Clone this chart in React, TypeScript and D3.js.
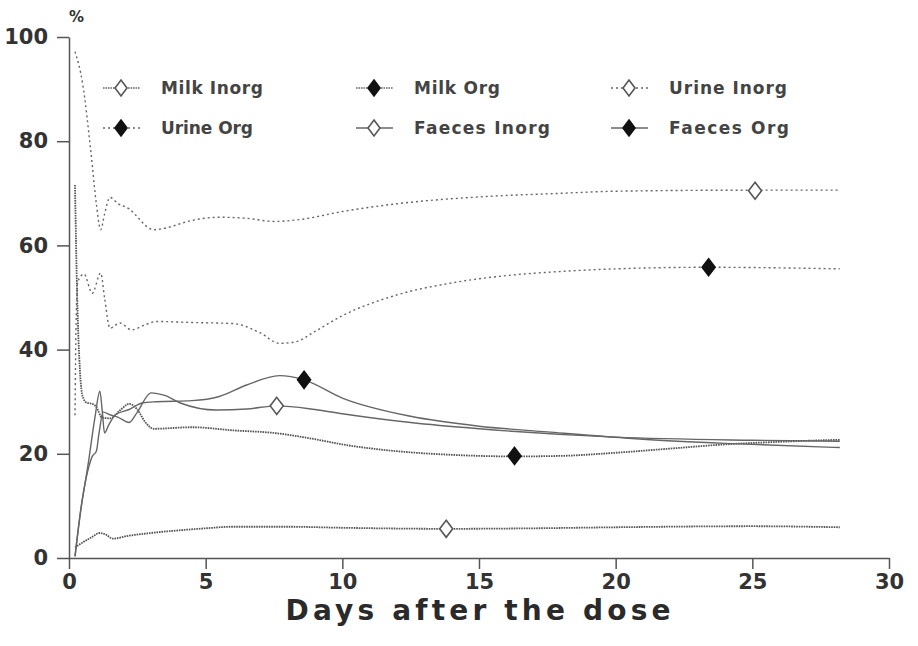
import React, { useEffect, useRef } from 'react';
import * as d3 from 'd3';

// days after the dose / percent
const milkInorgDays = [0.22, 0.5, 0.8, 1.13, 1.35, 1.6, 2.1, 3, 4, 5, 6, 8, 10, 13.8, 17, 20, 25, 28.2];
const milkInorgVals = [2.0, 3.0, 3.9, 4.8, 4.5, 3.7, 4.2, 4.8, 5.3, 5.7, 6.0, 6.0, 5.8, 5.6, 5.7, 5.9, 6.1, 5.9];

const milkOrgDays = [0.22, 0.3, 0.4, 0.5, 0.65, 0.85, 1.0, 1.2, 1.5, 1.9, 2.2, 2.5, 2.8, 3.1, 4.5, 6, 7.5, 9, 10, 12, 14, 16.3, 18, 20, 22, 24, 26, 28.2];
const milkOrgVals = [71.6, 50, 36, 31, 29.8, 29.6, 29, 27, 26.8, 28.5, 29.6, 28.5, 26, 24.8, 25.1, 24.5, 24, 22.8, 21.8, 20.5, 19.8, 19.5, 19.6, 20.2, 21, 21.8, 22.3, 22.7];

const urineInorgDays = [0.22, 0.5, 0.8, 1.0, 1.16, 1.3, 1.5, 1.8, 2.2, 2.5, 2.8, 3.1, 3.5, 4.5, 5.5, 6.5, 7.5, 8.5, 10, 12, 15, 18, 20, 25, 28.2];
const urineInorgVals = [97.2, 91, 78, 68, 63, 66, 69.2, 68, 67, 65.5, 63.8, 63, 63.3, 64.8, 65.4, 65.2, 64.6, 65, 66.5, 68, 69.3, 70, 70.4, 70.6, 70.6];

const urineOrgDays = [0.22, 0.26, 0.32, 0.55, 0.85, 1.16, 1.3, 1.5, 1.86, 2.29, 2.8, 3.2, 4.5, 6, 7, 7.7, 8.3, 9, 10, 12, 14, 16, 18, 20, 23.4, 28.2];
const urineOrgVals = [27.4, 45, 53, 54.5, 50.8, 54.7, 50, 44.1, 45.1, 43.8, 44.8, 45.4, 45.2, 45, 43.2, 41.2, 41.5, 43.5, 46.5, 50.5, 52.8, 54.2, 55, 55.5, 55.8, 55.5];

const faecesInorgDays = [0.22, 0.45, 0.7, 0.85, 1.0, 1.1, 1.25, 1.5, 1.8, 2.2, 2.5, 3.0, 3.5, 4.1, 5.4, 6.5, 7.6, 9, 10, 12.5, 15, 20, 25, 28.2];
const faecesInorgVals = [0.3, 10, 17, 19.5, 20.5, 24, 28, 27.5, 27, 26, 28, 31.7, 31.2, 29.7, 28.4, 28.6, 29.2, 28.5, 27.7, 26, 24.8, 23.2, 22.6, 22.4];

const faecesOrgDays = [0.22, 0.4, 0.7, 0.95, 1.13, 1.22, 1.3, 1.45, 1.7, 2.2, 2.7, 3.2, 4.5, 5.5, 6.5, 7.7, 8.6, 10, 12.5, 15, 17.5, 21, 24, 28.2];
const faecesOrgVals = [0.3, 8, 18, 27, 32, 28, 24, 25.5, 27.5, 28.5, 29.8, 30, 30.2, 31, 33.2, 35, 34.2, 30.7, 27.2, 25.3, 24.2, 22.8, 22, 21.2];

const seriesNames = ['Milk Inorg', 'Milk Org', 'Urine Inorg', 'Urine Org', 'Faeces Inorg', 'Faeces Org'];
const markerDays = [13.8, 16.3, 25.1, 23.4, 7.6, 8.6];
const markerVals = [5.6, 19.6, 70.5, 55.8, 29.2, 34.2];
const markerFilled = [false, true, false, true, false, true];
const xTicks = [0, 5, 10, 15, 20, 25, 30];
const yTicks = [0, 20, 40, 60, 80, 100];

const seriesDays = [milkInorgDays, milkOrgDays, urineInorgDays, urineOrgDays, faecesInorgDays, faecesOrgDays];
const seriesVals = [milkInorgVals, milkOrgVals, urineInorgVals, urineOrgVals, faecesInorgVals, faecesOrgVals];
const dashes = ['1.6,0.9', '1.6,0.9', '2,3', '2,3', null, null];

const App = () => {
    const svgRef = useRef(null);

    useEffect(() => {
        const svg = d3.select(svgRef.current);
        svg.selectAll('*').remove();
        const width = 918;
        const height = 646;
        const ink = '#333';
        const lineInk = '#666';
        const font = '"DejaVu Sans", Verdana, sans-serif';

        svg.attr('width', width).attr('height', height);

        const x = d3.scaleLinear().domain([0, 30]).range([69, 889]);
        const y = d3.scaleLinear().domain([0, 100]).range([558, 37]);

        // axes
        const xAxis = svg.append('g')
            .attr('transform', `translate(0, ${y(0)})`)
            .call(d3.axisBottom(x).tickValues(xTicks).tickSize(11).tickSizeOuter(0).tickPadding(5));
        const yAxis = svg.append('g')
            .attr('transform', `translate(${x(0)}, 0)`)
            .call(d3.axisLeft(y).tickValues(yTicks).tickSize(12).tickSizeOuter(0).tickPadding(9));

        [xAxis, yAxis].forEach(g => {
            g.select('.domain').attr('stroke', '#555').attr('stroke-width', 1.5);
            g.selectAll('.tick line').attr('stroke', '#555').attr('stroke-width', 1.5);
            g.selectAll('.tick text')
                .attr('fill', ink)
                .style('font-family', font)
                .style('font-size', '21px')
                .style('font-weight', 'bold');
        });
        xAxis.selectAll('.tick text').attr('dy', '0.72em');

        svg.append('text')
            .attr('x', x(15) - 1)
            .attr('y', 620)
            .attr('text-anchor', 'middle')
            .attr('fill', '#2a2a2a')
            .style('font-family', font)
            .style('font-size', '28px')
            .style('font-weight', 'bold')
            .attr('textLength', 385)
            .attr('lengthAdjust', 'spacing')
            .text('Days after the dose');

        svg.append('text')
            .attr('x', 69)
            .attr('y', 22)
            .attr('fill', ink)
            .style('font-family', font)
            .style('font-size', '15px')
            .style('font-weight', 'bold')
            .text('%');

        // curves
        const line = d3.line()
            .x(d => x(d[0]))
            .y(d => y(d[1]))
            .curve(d3.curveMonotoneX);

        seriesNames.forEach((name, i) => {
            const pts = seriesDays[i].map((d, j) => [d, seriesVals[i][j]]);
            svg.append('path')
                .datum(pts)
                .attr('d', line)
                .attr('fill', 'none')
                .attr('stroke', i < 2 ? '#555' : lineInk)
                .attr('stroke-width', i < 2 ? 1.8 : 1.4)
                .attr('stroke-dasharray', dashes[i]);
        });

        const diamond = (cx, cy, w, h) =>
            `M${cx},${cy - h}L${cx + w},${cy}L${cx},${cy + h}L${cx - w},${cy}Z`;

        seriesNames.forEach((name, i) => {
            svg.append('path')
                .attr('d', diamond(x(markerDays[i]), y(markerVals[i]), 6.5, 8.5))
                .attr('fill', markerFilled[i] ? '#111' : '#fff')
                .attr('stroke', markerFilled[i] ? '#111' : '#555')
                .attr('stroke-width', 1.6);
        });

        // legend, 3 columns x 2 rows
        const legendX = [103, 356, 611];
        const legendY = [88, 128];
        const textW = [102, 86, 118, 92, 136, 120];
        seriesNames.forEach((name, i) => {
            const col = i % 3;
            const row = Math.floor(i / 3);
            const lx = legendX[col];
            const ly = legendY[row];
            const g = svg.append('g');
            g.append('line')
                .attr('x1', lx).attr('x2', lx + 37)
                .attr('y1', ly).attr('y2', ly)
                .attr('stroke', lineInk)
                .attr('stroke-width', 1.4)
                .attr('stroke-dasharray', dashes[i]);
            g.append('path')
                .attr('d', diamond(lx + 18, ly, 6, 8))
                .attr('fill', markerFilled[i] ? '#111' : '#fff')
                .attr('stroke', markerFilled[i] ? '#111' : '#555')
                .attr('stroke-width', 1.6);
            g.append('text')
                .attr('x', lx + 58)
                .attr('y', ly + 6)
                .attr('fill', '#444')
                .style('font-family', font)
                .style('font-size', '17px')
                .style('font-weight', 'bold')
                .attr('textLength', textW[i])
                .attr('lengthAdjust', 'spacing')
                .text(name);
        });
    }, []);

    return <svg ref={svgRef} style={{ position: 'absolute', left: 0, top: 0, background: '#fff' }}></svg>;
};

export default App;
